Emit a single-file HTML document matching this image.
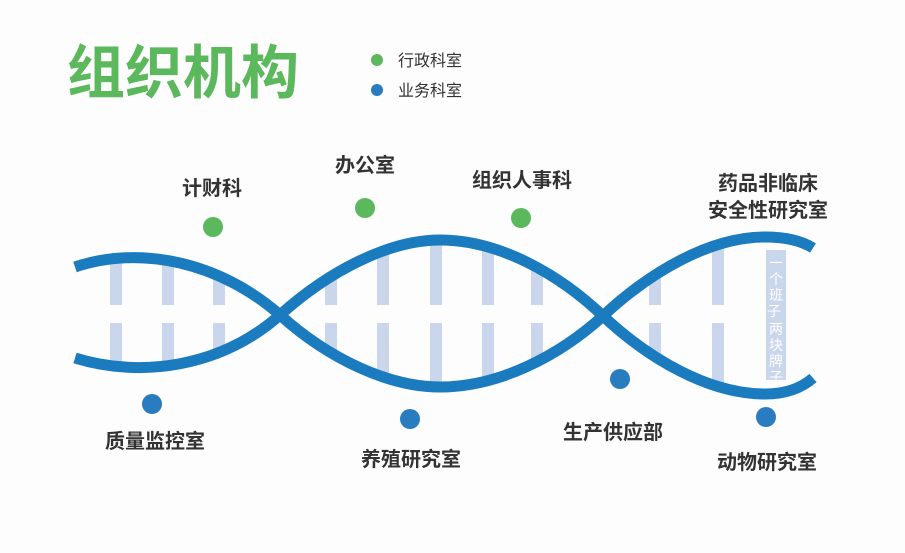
<!DOCTYPE html>
<html><head><meta charset="utf-8"><style>
body{margin:0;background:#fff;}
svg{display:block;font-family:"Liberation Sans","Noto Sans CJK SC",sans-serif;}
</style></head><body>
<svg width="905" height="553" viewBox="0 0 905 553" xmlns="http://www.w3.org/2000/svg">
<rect width="905" height="553" fill="#fdfdfd"/>
<text x="67" y="93" font-size="58" font-weight="bold" fill="#5cb85c">组织机构</text>
<circle cx="377" cy="60" r="6" fill="#5cb85c"/>
<circle cx="377" cy="90" r="6" fill="#2a7cc0"/>
<text x="398" y="66" font-size="16" fill="#333">行政科室</text>
<text x="398" y="96" font-size="16" fill="#333">业务科室</text>
<defs>
<clipPath id="c"><path clip-rule="evenodd" d="M75,267 C140,245 220,262 280,315 C330,360 390,387 440,387 C500,387 560,355 603,316 C650,272 710,237 765,237 C790,237 805,243 813,248 L813,378 C805,385 790,394 765,394 C710,394 650,360 603,316 C560,275 500,240 440,240 C390,240 330,270 280,315 C220,368 140,378 75,358 Z"/></clipPath>
</defs>
<g clip-path="url(#c)" fill="#c9d6ec">
<rect x="110" y="230" width="12" height="75"/><rect x="110" y="323" width="12" height="80"/>
<rect x="162" y="230" width="12" height="75"/><rect x="162" y="323" width="12" height="80"/>
<rect x="213" y="230" width="12" height="75"/><rect x="213" y="323" width="12" height="80"/>
<rect x="325" y="230" width="12" height="75"/><rect x="325" y="323" width="12" height="80"/>
<rect x="377" y="230" width="12" height="75"/><rect x="377" y="323" width="12" height="80"/>
<rect x="430" y="230" width="12" height="75"/><rect x="430" y="323" width="12" height="80"/>
<rect x="482" y="230" width="12" height="75"/><rect x="482" y="323" width="12" height="80"/>
<rect x="531" y="230" width="12" height="75"/><rect x="531" y="323" width="12" height="80"/>
<rect x="649" y="230" width="12" height="75"/><rect x="649" y="323" width="12" height="80"/>
<rect x="712" y="230" width="12" height="75"/><rect x="712" y="323" width="12" height="80"/>
</g>
<rect x="766" y="250" width="20" height="130" fill="#c9d6ec"/>
<text font-size="14" fill="#fff" text-anchor="middle">
<tspan x="776" y="268">一</tspan><tspan x="776" y="284">个</tspan><tspan x="776" y="300">班</tspan><tspan x="776" y="316">子</tspan>
<tspan x="776" y="334">两</tspan><tspan x="776" y="350">块</tspan><tspan x="776" y="366">牌</tspan><tspan x="776" y="382">子</tspan>
</text>
<g fill="none" stroke="#1b7bbf" stroke-width="11">
<path d="M75,267 C140,245 220,262 280,315 C330,360 390,387 440,387 C500,387 560,355 603,316 C650,272 710,237 765,237 C790,237 805,243 813,248"/>
<path d="M75,358 C140,378 220,368 280,315 C330,270 390,240 440,240 C500,240 560,275 603,316 C650,360 710,394 765,394 C790,394 805,385 813,378"/>
</g>
<g fill="#5cb85c"><circle cx="213" cy="227" r="10"/><circle cx="365" cy="208" r="10"/><circle cx="521" cy="218" r="10"/></g>
<g fill="#2a7cc0"><circle cx="152" cy="404" r="10"/><circle cx="410" cy="419" r="10"/><circle cx="620" cy="379" r="10"/><circle cx="766" cy="417" r="10"/></g>
<g font-size="20" font-weight="bold" fill="#333" text-anchor="middle">
<text x="212" y="195">计财科</text>
<text x="365" y="172">办公室</text>
<text x="522" y="187">组织人事科</text>
<text x="768" y="190">药品非临床</text>
<text x="768" y="217">安全性研究室</text>
<text x="155" y="448">质量监控室</text>
<text x="411" y="466">养殖研究室</text>
<text x="613" y="439">生产供应部</text>
<text x="767" y="469">动物研究室</text>
</g>
</svg>
</body></html>
